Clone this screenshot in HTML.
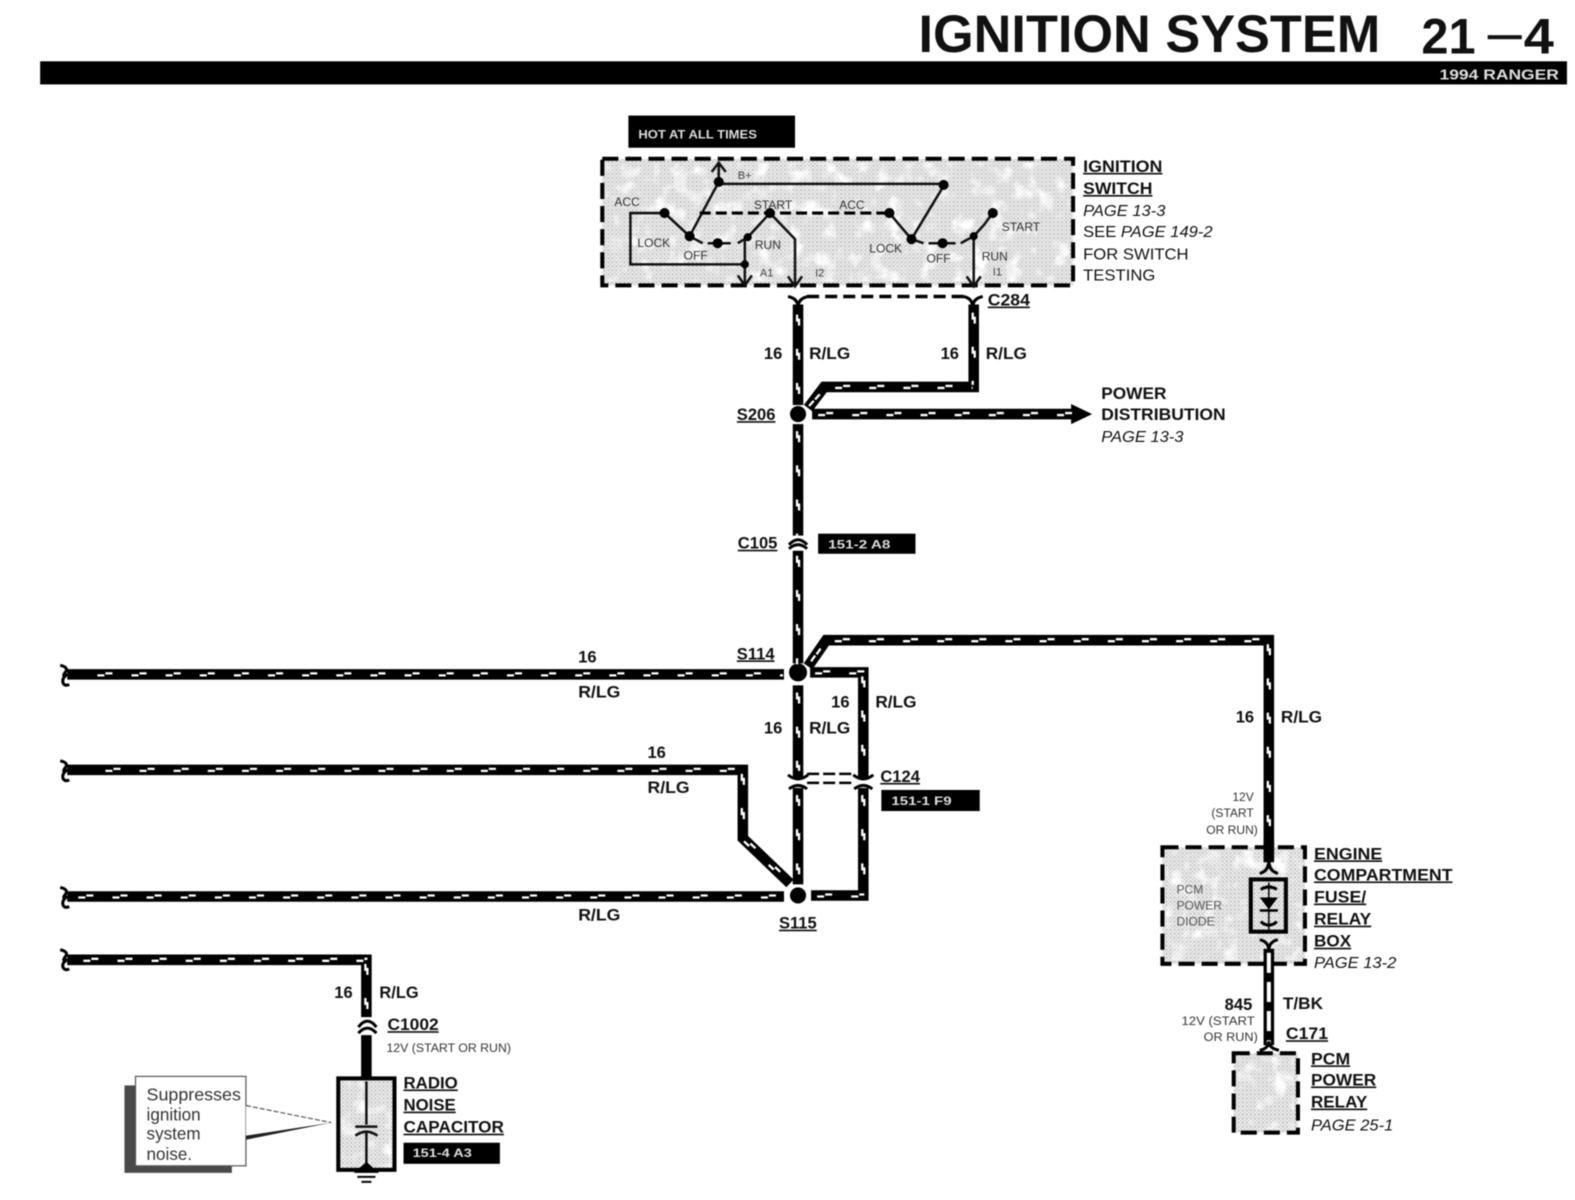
<!DOCTYPE html>
<html><head><meta charset="utf-8"><style>
html,body{margin:0;padding:0;background:#fff;width:1575px;height:1200px;overflow:hidden}
svg{display:block;filter:blur(.55px)}
text{font-family:"Liberation Sans",sans-serif;fill:#111}
.b,.u,.i,.r,.s,.t,.wl,.n{transform:translateY(-1px)}
.b{font-weight:bold;font-size:16.5px}
.u{font-weight:bold;font-size:16.5px;text-decoration:underline}
.i{font-style:italic;font-size:16px}
.r{font-size:16px}
.s{font-size:12px;fill:#333}
.t{font-size:11px;fill:#444}
.wl{font-size:11.5px;font-weight:bold;fill:#ddd}
.n{font-size:17px;fill:#333}
.w{fill:none;stroke:#000;stroke-width:10.5;stroke-linejoin:miter}
.A{stroke-dasharray:7 27;transform:translate(-1px,1px)}
.B{stroke-dasharray:7 27;stroke-dashoffset:-6px;transform:translate(1px,-1px)}
.bx{fill:url(#p);stroke:#000;stroke-width:4;stroke-dasharray:16 7}
.l{fill:none;stroke:#111;stroke-width:2.5}
.c{fill:none;stroke:#000;stroke-width:3}
</style></head><body>
<svg width="1575" height="1200" viewBox="0 0 1569 1194" xmlns="http://www.w3.org/2000/svg" preserveAspectRatio="none">
<defs>
<pattern id="p" width="4" height="4" patternUnits="userSpaceOnUse">
<rect width="4" height="4" fill="#eeeeee"/><circle cx="1" cy="1" r="1" fill="#b8b8b8"/><circle cx="3" cy="3" r=".9" fill="#c8c8c8"/>
</pattern>
<filter id="m" x="0" y="0" width="100%" height="100%">
<feTurbulence type="fractalNoise" baseFrequency=".06" numOctaves="3" seed="4" result="n"/>
<feColorMatrix in="n" type="matrix" values="0 0 0 0 1  0 0 0 0 1  0 0 0 0 1  3.5 0 0 0 -1.75"/>
</filter>
<g id="dd" fill="none" stroke="#fff" stroke-width="2.3">
<path d="M794 312V403"/>
<path d="M806 403L822 385H969"/>
<path d="M969 310V382"/>
<path d="M815 412H1070"/>
<path d="M794 428V533"/>
<path d="M794 552V660"/>
<path d="M97 671H780"/>
<path d="M808 657L822 637H1263"/>
<path d="M1263 640V850"/>
<path d="M812 669H859"/>
<path d="M859 672V768"/>
<path d="M794 688V768"/>
<path d="M859 790V886"/>
<path d="M814 891H859"/>
<path d="M794 790V880"/>
<path d="M105 766H739"/>
<path d="M739 769V834L782 875"/>
<path d="M78 892H780"/>
<path d="M83 955H364"/>
<path d="M364 958V1012"/>
</g>
</defs>
<rect x="0" y="0" width="1569" height="1194" fill="#fff"/>

<!-- header -->
<text x="915" y="52" font-size="53" font-weight="bold" textLength="460" lengthAdjust="spacingAndGlyphs">IGNITION SYSTEM</text>
<text x="1416" y="53" font-size="50" font-weight="bold" textLength="54" lengthAdjust="spacingAndGlyphs">21</text>
<rect x="1482" y="35" width="34" height="4" fill="#111"/>
<text x="1518" y="53" font-size="50" font-weight="bold" textLength="30" lengthAdjust="spacingAndGlyphs">4</text>
<rect x="40" y="61" width="1521" height="23" fill="#000"/>
<text x="1434" y="79" font-size="14.5" font-weight="bold" style="fill:#ddd" textLength="119" lengthAdjust="spacingAndGlyphs">1994 RANGER</text>

<g transform="translate(1 0)">
<!-- hot -->
<rect x="625" y="115" width="166" height="32" fill="#000"/>
<text x="635" y="139" class="wl" font-size="12" textLength="118" lengthAdjust="spacingAndGlyphs">HOT AT ALL TIMES</text>

<!-- ignition switch -->
<rect x="599" y="158" width="469" height="126" class="bx"/>
<rect x="603" y="162" width="461" height="118" fill="#fff" filter="url(#m)"/>
<path class="l" d="M715 162V184M708 171L715 162L722 171"/>
<path class="l" d="M715 183H939" stroke-width="3.5"/>
<path class="l" d="M715 181L686 235M939 185L907 238"/>
<path class="c" stroke-width="2.5" stroke-dasharray="11 5" d="M696 212H885"/>
<path class="l" d="M661 212H627V263H741M661 212L686 235M741 235V283M734 274L741 284L748 274"/>
<path class="l" d="M686 235L699 242M704 242H727M734 242L744 236L754 225L766 212L791 238V284M784 275L791 285L798 275"/>
<path class="l" d="M885 212L907 238L919 242M924 242H951M956 242L969 235L979 224L988 212M969 235V284M962 275L969 285L976 275"/>
<g fill="#000"><circle cx="715" cy="181" r="5"/><circle cx="939" cy="184" r="5"/><circle cx="661" cy="212" r="5"/><circle cx="686" cy="235" r="5"/><circle cx="714" cy="242" r="5"/><circle cx="744" cy="236" r="4"/><circle cx="766" cy="212" r="5"/><circle cx="741" cy="263" r="4"/><circle cx="885" cy="212" r="5"/><circle cx="907" cy="238" r="5"/><circle cx="938" cy="242" r="5"/><circle cx="969" cy="235" r="4"/><circle cx="988" cy="212" r="5"/></g>
<text x="734" y="179" class="t">B+</text>
<text x="611" y="206" class="s">ACC</text><text x="750" y="209" class="s">START</text><text x="835" y="209" class="s">ACC</text>
<text x="634" y="247" class="s">LOCK</text><text x="680" y="259" class="s">OFF</text><text x="751" y="249" class="s">RUN</text>
<text x="865" y="252" class="s">LOCK</text><text x="922" y="262" class="s">OFF</text><text x="977" y="260" class="s">RUN</text><text x="997" y="231" class="s">START</text>
<text x="756" y="276" class="t">A1</text><text x="811" y="276" class="t">I2</text><text x="988" y="275" class="t">I1</text>
<text x="1078" y="172" class="u" textLength="79" lengthAdjust="spacingAndGlyphs">IGNITION</text>
<text x="1078" y="194" class="u" textLength="69" lengthAdjust="spacingAndGlyphs">SWITCH</text>
<text x="1078" y="216" class="i" textLength="82" lengthAdjust="spacingAndGlyphs">PAGE 13-3</text>
<text x="1078" y="237" class="r" textLength="129" lengthAdjust="spacingAndGlyphs">SEE <tspan font-style="italic">PAGE 149-2</tspan></text>
<text x="1078" y="259" class="r" textLength="105" lengthAdjust="spacingAndGlyphs">FOR SWITCH</text>
<text x="1078" y="280" class="r" textLength="72" lengthAdjust="spacingAndGlyphs">TESTING</text>

<!-- C284 -->
<path class="c" stroke-width="3.5" d="M784 295Q794 297 794 306Q794 297 804 295M959 295Q968 297 968 306Q968 297 978 295"/>
<path d="M803 295H959" stroke="#000" stroke-width="3.5" stroke-dasharray="12 6" fill="none"/>
<text x="983" y="305" class="u" textLength="42" lengthAdjust="spacingAndGlyphs">C284</text>

<!-- wires -->
<path class="w" d="M794 303V403"/>
<path class="w" d="M969 303V385H820L804 406"/>
<circle cx="794" cy="412" r="8" fill="#000"/>
<path class="w" d="M808 412H1070"/>
<path d="M1066 402L1087 412L1066 422Z" fill="#000"/>
<path class="w" d="M794 422V533"/>
<path class="c" d="M785 542Q794 532 803 542M785 546Q794 538 803 546" stroke-width="3.5"/>
<path class="w" d="M794 548V660"/>
<circle cx="794" cy="669" r="9" fill="#000"/>
<path class="w" d="M66 671H780"/>
<path class="w" d="M804 663L822 637H1263V860"/>
<path class="w" d="M806 669H859V775"/>
<path class="w" d="M794 682V775"/>
<path d="M803 770H851M803 779H851" stroke="#000" stroke-width="2.5" stroke-dasharray="12 4" fill="none"/>
<path class="c" stroke-width="4" d="M784 771Q794 779 804 771M849 771Q859 779 869 771"/>
<path class="c" stroke-width="3.5" d="M785 785Q794 778 803 785M850 785Q859 778 868 785"/>
<path class="w" d="M794 784V880"/>
<path class="w" d="M859 784V891H807"/>
<path class="w" d="M66 766H739V834L786 879"/>
<circle cx="794" cy="891" r="8" fill="#000"/>
<path class="w" d="M66 892H780"/>
<path class="w" d="M66 955H364V1012"/>

<use href="#dd" class="A"/>
<use href="#dd" class="B"/>

<text x="760" y="358" class="b">16</text><text x="805" y="358" class="b" textLength="41" lengthAdjust="spacingAndGlyphs">R/LG</text>
<text x="936" y="358" class="b">16</text><text x="981" y="358" class="b" textLength="41" lengthAdjust="spacingAndGlyphs">R/LG</text>
<text x="733" y="419" class="u">S206</text>
<text x="1096" y="398" class="b" textLength="65" lengthAdjust="spacingAndGlyphs">POWER</text>
<text x="1096" y="419" class="b" textLength="124" lengthAdjust="spacingAndGlyphs">DISTRIBUTION</text>
<text x="1096" y="441" class="i" textLength="82" lengthAdjust="spacingAndGlyphs">PAGE 13-3</text>
<text x="734" y="547" class="u">C105</text>
<rect x="814" y="531" width="97" height="20" fill="#000"/>
<text x="824" y="547" class="wl" textLength="62" lengthAdjust="spacingAndGlyphs">151-2 A8</text>

<text x="733" y="657" class="u">S114</text>
<text x="876" y="779" class="u">C124</text>
<rect x="877" y="786" width="98" height="21" fill="#000"/>
<text x="887" y="802" class="wl" textLength="60" lengthAdjust="spacingAndGlyphs">151-1 F9</text>
<text x="775" y="925" class="u">S115</text>
<text x="575" y="660" class="b">16</text><text x="575" y="695" class="b" textLength="42" lengthAdjust="spacingAndGlyphs">R/LG</text>
<text x="644" y="755" class="b">16</text><text x="644" y="790" class="b" textLength="42" lengthAdjust="spacingAndGlyphs">R/LG</text>
<text x="575" y="917" class="b" textLength="42" lengthAdjust="spacingAndGlyphs">R/LG</text>
<text x="827" y="705" class="b">16</text><text x="871" y="705" class="b" textLength="41" lengthAdjust="spacingAndGlyphs">R/LG</text>
<text x="760" y="731" class="b">16</text><text x="805" y="731" class="b" textLength="41" lengthAdjust="spacingAndGlyphs">R/LG</text>
<text x="1230" y="720" class="b">16</text><text x="1275" y="720" class="b" textLength="41" lengthAdjust="spacingAndGlyphs">R/LG</text>

<!-- wire stubs -->
<path class="c" d="M59 662Q68 664 64 669Q60 674 66 671Q60 675 62 680Q64 683 68 681M59 757Q68 759 64 764Q60 769 66 766Q60 770 62 775Q64 778 68 776M59 883Q68 885 64 890Q60 895 66 892Q60 896 62 901Q64 904 68 902M59 945Q68 947 64 952Q60 957 66 955Q60 958 62 963Q64 966 68 964"/>

<!-- lower-left -->
<text x="332" y="994" class="b">16</text><text x="377" y="994" class="b" textLength="39" lengthAdjust="spacingAndGlyphs">R/LG</text>
<path class="c" stroke-width="3.5" d="M356 1022Q365 1010 374 1022M356 1028Q365 1018 374 1028"/>
<path class="w" d="M364 1030V1074"/>
<text x="385" y="1026" class="u" textLength="51" lengthAdjust="spacingAndGlyphs">C1002</text>
<text x="384" y="1048" class="s" textLength="124" lengthAdjust="spacingAndGlyphs">12V (START OR RUN)</text>
<rect x="336" y="1073" width="56" height="91" fill="url(#p)" stroke="#000" stroke-width="4"/>
<rect x="339" y="1076" width="50" height="85" fill="#fff" filter="url(#m)"/>
<path class="l" d="M364 1076V1119M353 1121H375M353 1130Q364 1122 375 1130M364 1126V1164"/>
<path d="M355 1164L364 1156L373 1164Z" fill="#000"/>
<path d="M352 1166H376M355 1171H373M359 1176H369" stroke="#000" stroke-width="2"/>
<text x="401" y="1084" class="u" textLength="54" lengthAdjust="spacingAndGlyphs">RADIO</text>
<text x="401" y="1106" class="u" textLength="52" lengthAdjust="spacingAndGlyphs">NOISE</text>
<text x="401" y="1128" class="u" textLength="100" lengthAdjust="spacingAndGlyphs">CAPACITOR</text>
<rect x="401" y="1137" width="96" height="21" fill="#000"/>
<text x="410" y="1152" class="wl" textLength="59" lengthAdjust="spacingAndGlyphs">151-4 A3</text>
<rect x="123" y="1080" width="107" height="87" fill="#4a4a4a"/>
<rect x="134" y="1071" width="110" height="89" fill="#fff" stroke="#555" stroke-width="1.2"/>
<path d="M244 1100L329 1117L244 1132Z" fill="#fff"/>
<path d="M244 1100L329 1117" stroke="#555" stroke-width="1.2" stroke-dasharray="5 2" fill="none"/>
<path d="M244 1130L329 1117L244 1134Z" fill="#222"/>
<text x="145" y="1096" class="n" textLength="94" lengthAdjust="spacingAndGlyphs">Suppresses</text>
<text x="145" y="1116" class="n">ignition</text>
<text x="145" y="1135" class="n">system</text>
<text x="145" y="1155" class="n">noise.</text>

<!-- right relay -->
<text x="1248" y="798" class="s" text-anchor="end">12V</text>
<text x="1248" y="814" class="s" text-anchor="end">(START</text>
<text x="1252" y="831" class="s" text-anchor="end">OR RUN)</text>
<rect x="1157" y="843" width="142" height="116" class="bx"/>
<rect x="1161" y="847" width="134" height="108" fill="#fff" filter="url(#m)"/>
<path class="w" d="M1263 835V858"/>
<path class="c" stroke-width="4" d="M1254 869Q1263 867 1263 856Q1263 867 1272 869"/>
<rect x="1245" y="875" width="35" height="52" fill="url(#p)" stroke="#000" stroke-width="4"/>
<path d="M1263 878V925" stroke="#000" stroke-width="1.5"/>
<path d="M1254 893H1272L1263 905Z" fill="#000"/><path d="M1254 906H1272" stroke="#000" stroke-width="2.5"/>
<path class="c" stroke-width="2" d="M1255 885Q1263 880 1271 885M1255 917Q1263 924 1271 917"/>
<text x="1171" y="890" class="s" style="fill:#555">PCM</text>
<text x="1171" y="906" class="s" style="fill:#555">POWER</text>
<text x="1171" y="922" class="s" style="fill:#555">DIODE</text>
<path class="c" stroke-width="4" d="M1254 935Q1263 937 1263 946Q1263 937 1272 935"/>
<path class="w" d="M1263 944V1040" stroke-width="12"/>
<path d="M1263 948V1040" stroke="#fff" stroke-width="4" fill="none" stroke-dasharray="20 9"/>
<path class="c" stroke-width="3.5" d="M1254 1045Q1263 1043 1263 1036Q1263 1043 1273 1045"/>
<text x="1308" y="856" class="u" textLength="68" lengthAdjust="spacingAndGlyphs">ENGINE</text>
<text x="1308" y="877" class="u" textLength="138" lengthAdjust="spacingAndGlyphs">COMPARTMENT</text>
<text x="1308" y="899" class="u" textLength="52" lengthAdjust="spacingAndGlyphs">FUSE/</text>
<text x="1308" y="921" class="u" textLength="57" lengthAdjust="spacingAndGlyphs">RELAY</text>
<text x="1308" y="943" class="u" textLength="37" lengthAdjust="spacingAndGlyphs">BOX</text>
<text x="1308" y="964" class="i" textLength="82" lengthAdjust="spacingAndGlyphs">PAGE 13-2</text>
<text x="1219" y="1006" class="b">845</text><text x="1277" y="1005" class="b" textLength="40" lengthAdjust="spacingAndGlyphs">T/BK</text>
<text x="1176" y="1021" class="s" textLength="73" lengthAdjust="spacingAndGlyphs">12V  (START</text>
<text x="1198" y="1037" class="s" textLength="54" lengthAdjust="spacingAndGlyphs">OR RUN)</text>
<text x="1280" y="1035" class="u" textLength="42" lengthAdjust="spacingAndGlyphs">C171</text>
<rect x="1228" y="1048" width="64" height="79" class="bx"/>
<rect x="1232" y="1052" width="56" height="71" fill="#fff" filter="url(#m)"/>
<text x="1305" y="1060" class="u" textLength="39" lengthAdjust="spacingAndGlyphs">PCM</text>
<text x="1305" y="1081" class="u" textLength="65" lengthAdjust="spacingAndGlyphs">POWER</text>
<text x="1305" y="1103" class="u" textLength="56" lengthAdjust="spacingAndGlyphs">RELAY</text>
<text x="1305" y="1126" class="i" textLength="82" lengthAdjust="spacingAndGlyphs">PAGE 25-1</text>
</g>
</svg>
</body></html>
